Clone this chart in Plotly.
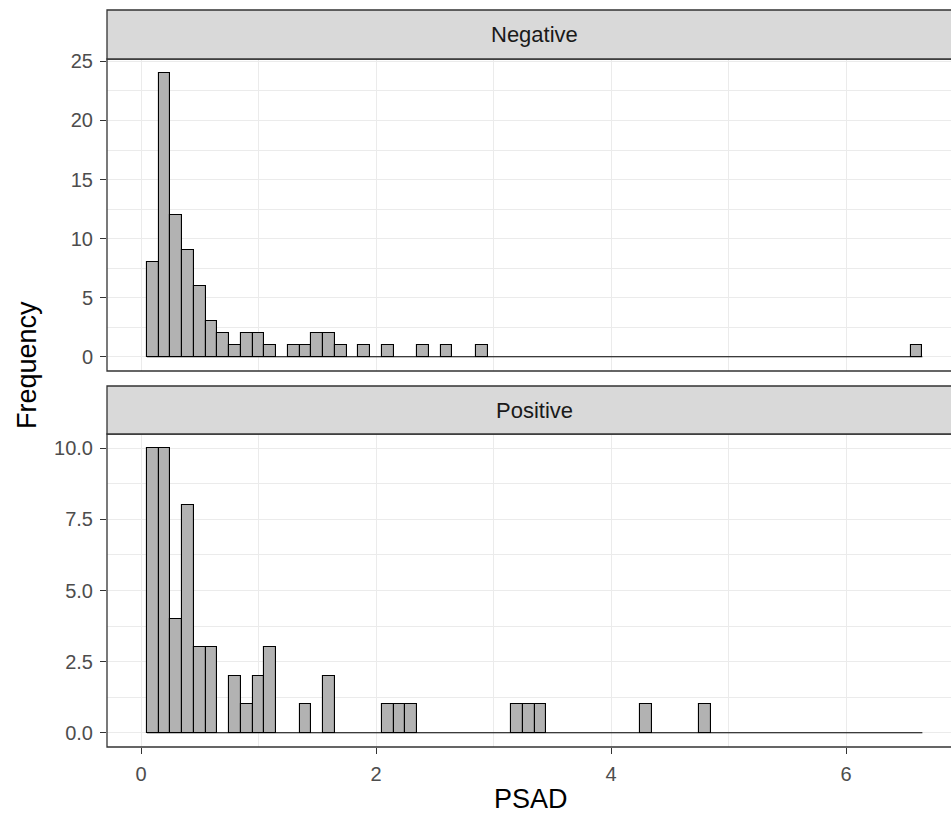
import plotly.graph_objects as go

# ---- data (histogram, binwidth 0.1; only non-empty bins listed) ----
bin_width = 0.1
bin_min_center = 0.1
bin_max_center = 6.6

neg_centers = [0.1, 0.2, 0.3, 0.4, 0.5, 0.6, 0.7, 0.8, 0.9, 1.0, 1.1,
               1.3, 1.4, 1.5, 1.6, 1.7, 1.9, 2.1, 2.4, 2.6, 2.9, 6.6]
neg_counts = [8, 24, 12, 9, 6, 3, 2, 1, 2, 2, 1,
              1, 1, 2, 2, 1, 1, 1, 1, 1, 1, 1]

pos_centers = [0.1, 0.2, 0.3, 0.4, 0.5, 0.6, 0.8, 0.9, 1.0, 1.1,
               1.4, 1.6, 2.1, 2.2, 2.3, 3.2, 3.3, 3.4, 4.3, 4.8]
pos_counts = [10, 10, 4, 8, 3, 3, 2, 1, 2, 3,
              1, 2, 1, 1, 1, 1, 1, 1, 1, 1]

panel_labels = ["Negative", "Positive"]
x_title = "PSAD"
y_title = "Frequency"

# ---- styling ----
W, H = 951, 819
FONT = "Liberation Sans, Arial, sans-serif"
BAR_FILL = "#B2B2B2"
BORDER = "#333333"
GRID = "#EBEBEB"
TICK_COL = "#4D4D4D"
STRIP_FILL = "#D9D9D9"

PANEL_L, PANEL_R = 107, 951
BOTTOM = 747
TOP = 10
ML, MR, MT, MB = PANEL_L, W - PANEL_R, TOP, H - BOTTOM

ph = H - MT - MB
pw = W - ML - MR
def py(pix):
    return (BOTTOM - pix) / ph
def px(pix):
    return (pix - PANEL_L) / pw

d1 = [py(371), py(59)]
d2 = [0.0, py(434)]
s1 = [py(59), 1.0]
s2 = [py(434), py(386)]

fig = go.Figure()

edge_lo = bin_min_center - bin_width / 2
edge_hi = bin_max_center + bin_width / 2

for centers, counts, xa, ya in [(neg_centers, neg_counts, "x", "y"),
                                 (pos_centers, pos_counts, "x2", "y2")]:
    # empty bins drawn as a flat outline along zero
    fig.add_trace(go.Scatter(x=[edge_lo, edge_hi], y=[0, 0], mode="lines",
                             line=dict(color="black", width=1.1),
                             xaxis=xa, yaxis=ya, showlegend=False,
                             hoverinfo="skip"))
    fig.add_trace(go.Bar(x=centers, y=counts, width=bin_width,
                         marker=dict(color=BAR_FILL,
                                     line=dict(color="black", width=1.1)),
                         xaxis=xa, yaxis=ya, showlegend=False))

xr = [(PANEL_L - 141) / 117.5, (PANEL_R - 141) / 117.5]

common_x = dict(range=xr, showgrid=True, gridcolor=GRID, gridwidth=1.3,
                zeroline=False, showline=False, tickmode="linear", tick0=0,
                dtick=2, minor=dict(showgrid=True, gridcolor=GRID,
                                    gridwidth=0.6, dtick=1, tick0=0),
                tickfont=dict(family=FONT, size=20, color=TICK_COL))

fig.update_layout(
    width=W, height=H,
    margin=dict(l=ML, r=MR, t=MT, b=MB),
    paper_bgcolor="white", plot_bgcolor="white",
    bargap=0,
    xaxis=dict(common_x, anchor="y", showticklabels=False, ticks=""),
    xaxis2=dict(common_x, anchor="y2", matches="x", ticks="outside",
                ticklen=6, tickwidth=1.2, tickcolor=BORDER,
                ticklabelstandoff=3),
    yaxis=dict(domain=d1, range=[-1.2, 25.2], tickmode="linear", tick0=0,
               dtick=5, showgrid=True, gridcolor=GRID, gridwidth=1.3,
               minor=dict(showgrid=True, gridcolor=GRID, gridwidth=0.6,
                          dtick=2.5, tick0=0),
               zeroline=False, ticks="outside", ticklen=6, tickwidth=1.2,
               tickcolor=BORDER, ticklabelstandoff=3,
               tickfont=dict(family=FONT, size=20, color=TICK_COL),
               anchor="x"),
    yaxis2=dict(domain=d2, range=[-0.5, 10.5], tickmode="linear", tick0=0,
                dtick=2.5, tickformat=".1f", showgrid=True, gridcolor=GRID,
                gridwidth=1.3,
                minor=dict(showgrid=True, gridcolor=GRID, gridwidth=0.6,
                           dtick=1.25, tick0=0),
                zeroline=False, ticks="outside", ticklen=6, tickwidth=1.2,
                tickcolor=BORDER, ticklabelstandoff=3,
                tickfont=dict(family=FONT, size=20, color=TICK_COL),
                anchor="x2"),
)

shapes = []
for dom in (d1, d2):
    shapes.append(dict(type="rect", xref="paper", yref="paper", x0=0,
                       x1=1.03, y0=dom[0], y1=dom[1],
                       line=dict(color=BORDER, width=1.3),
                       fillcolor="rgba(0,0,0,0)", layer="above"))
for s in (s1, s2):
    shapes.append(dict(type="rect", xref="paper", yref="paper", x0=0,
                       x1=1.03, y0=s[0], y1=s[1],
                       line=dict(color=BORDER, width=1.3),
                       fillcolor=STRIP_FILL, layer="above"))
fig.update_layout(shapes=shapes)

annotations = []
for label, s in zip(panel_labels, (s1, s2)):
    annotations.append(dict(text=label, xref="paper", yref="paper",
                            x=px(534), y=(s[0] + s[1]) / 2,
                            xanchor="center", yanchor="middle",
                            showarrow=False,
                            font=dict(family=FONT, size=22, color="#1A1A1A")))
annotations.append(dict(text=x_title, xref="paper", yref="paper",
                        x=px(531), y=py(799), xanchor="center",
                        yanchor="middle", showarrow=False,
                        font=dict(family=FONT, size=27, color="black")))
annotations.append(dict(text=y_title, xref="paper", yref="paper",
                        x=px(27), y=py(365), xanchor="center",
                        yanchor="middle", textangle=-90, showarrow=False,
                        font=dict(family=FONT, size=27, color="black")))
fig.update_layout(annotations=annotations)

fig.write_html(
    "out.html",
    config={"displayModeBar": False},
    post_script="document.body.style.margin='0';"
                "document.body.style.overflow='hidden';",
)
